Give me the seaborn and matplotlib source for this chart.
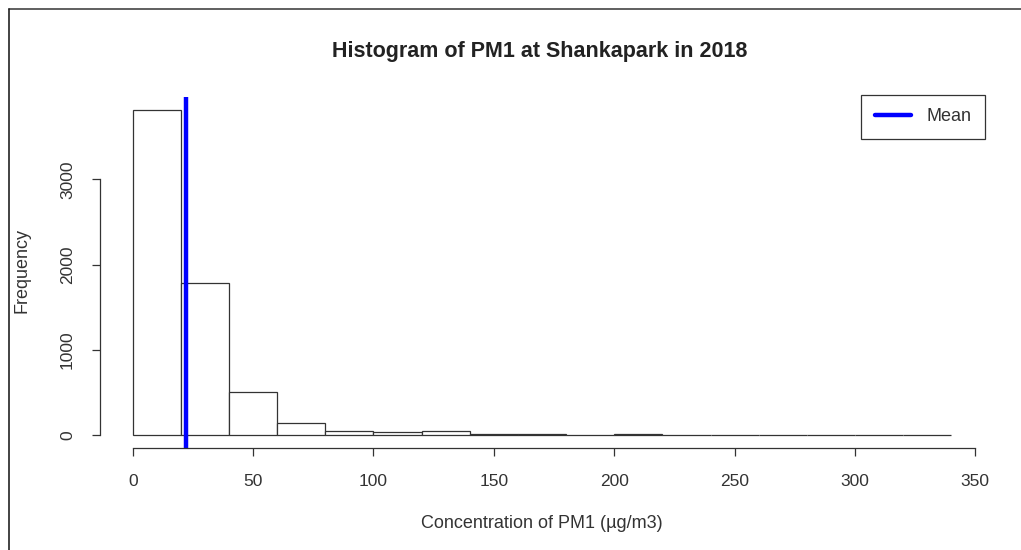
import matplotlib
matplotlib.use("Agg")
import matplotlib.pyplot as plt
from matplotlib.lines import Line2D
import seaborn as sns

# histogram of hourly PM1, bins of 20 ug/m3
bin_edges = [0, 20, 40, 60, 80, 100, 120, 140, 160, 180, 200, 220,
             240, 260, 280, 300, 320, 340]
counts = [3813, 1778, 500, 145, 50, 31, 45, 10, 10, 0, 8,
          0, 0, 0, 0, 0, 0]
mean_pm1 = 22.2

x_ticks = [0, 50, 100, 150, 200, 250, 300, 350]
y_ticks = [0, 1000, 2000, 3000]

sns.set_style("ticks")
plt.rcParams["font.family"] = ["Liberation Sans", "DejaVu Sans"]

fig = plt.figure(figsize=(10.21, 5.5), dpi=100)
ax = fig.add_axes([100 / 1021, 1 - 448 / 550, 884 / 1021, 351 / 550])

centers = [(a + b) / 2 for a, b in zip(bin_edges[:-1], bin_edges[1:])]
sns.histplot(x=centers, weights=counts, bins=bin_edges, ax=ax,
             color="white", edgecolor="#333333", linewidth=0.9, alpha=1)

ax.axvline(mean_pm1, color="#0000ff", linewidth=3.2)

ax.set_xlim(-13.6, 353.6)
ax.set_ylim(-152.5, 3965.5)
ax.set_xticks(x_ticks)
ax.set_yticks(y_ticks)
ax.set_yticklabels([str(v) for v in y_ticks], rotation=90, va="center")

for side in ["top", "right"]:
    ax.spines[side].set_visible(False)
ax.spines["bottom"].set_bounds(0, 350)
ax.spines["left"].set_bounds(0, 3000)
for side in ["bottom", "left"]:
    ax.spines[side].set_color("#333333")
    ax.spines[side].set_linewidth(0.9)
ax.tick_params(axis="both", length=6, width=0.9, color="#333333",
               labelsize=12.5, labelcolor="#333333")
ax.tick_params(axis="x", pad=13)
ax.tick_params(axis="y", pad=12)

ax.set_xlabel("")
ax.set_ylabel("")
fig.text(542 / 1021, 1 - 524 / 550, "Concentration of PM1 (\u00b5g/m3)",
         ha="center", va="center", fontsize=13, color="#333333")
fig.text(22 / 1021, 1 - 270 / 550, "Frequency", rotation=90,
         ha="center", va="center", fontsize=13, color="#333333")
fig.text(540 / 1021, 1 - 52 / 550, "Histogram of PM1 at Shankapark in 2018",
         ha="center", va="center", fontsize=15.5, fontweight="bold",
         color="#222222")

handle = Line2D([], [], color="#0000ff", linewidth=3.2)
leg = ax.legend([handle], ["Mean"], loc="upper right",
                bbox_to_anchor=(1.001, 1.006), borderaxespad=0,
                fancybox=False, framealpha=1, edgecolor="#333333",
                fontsize=13, handlelength=2.0, borderpad=0.75,
                handletextpad=0.85)
leg.get_frame().set_linewidth(0.9)
for t in leg.get_texts():
    t.set_color("#333333")

# outer frame lines (top and left only)
fig.add_artist(Line2D([9 / 1021, 1], [1 - 9 / 550, 1 - 9 / 550],
                      color="#444444", linewidth=1.2,
                      transform=fig.transFigure))
fig.add_artist(Line2D([9 / 1021, 9 / 1021], [0, 1 - 9 / 550],
                      color="#222222", linewidth=1.2,
                      transform=fig.transFigure))

fig.savefig("out.png", dpi=100)
